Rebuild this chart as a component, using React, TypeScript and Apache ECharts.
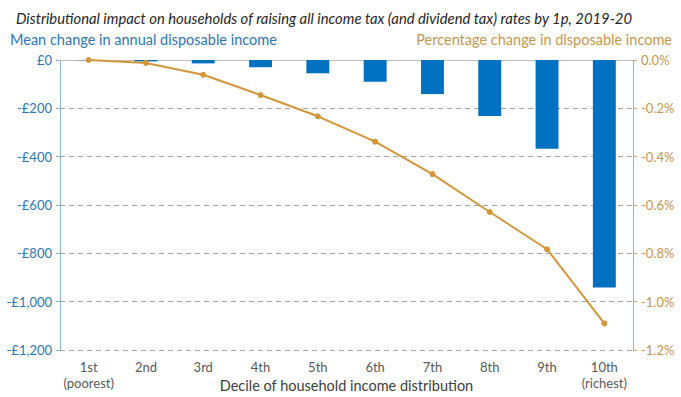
import React, { useEffect, useRef } from "react";
import * as echarts from "echarts";

const categories = ["1st\n(poorest)", "2nd", "3rd", "4th", "5th", "6th", "7th", "8th", "9th", "10th\n(richest)"];
const meanChange = [-1, -6, -14, -30, -55, -90, -141, -232, -367, -941];
const pctChange = [0, -0.012, -0.061, -0.145, -0.233, -0.338, -0.472, -0.629, -0.783, -1.09];

const FONT = "Lato";

export default function App() {
  const ref = useRef<HTMLDivElement>(null);
  useEffect(() => {
    const chart = echarts.init(ref.current!, undefined, { renderer: "svg" });
    chart.setOption({
      animation: false,
      textStyle: { fontFamily: FONT },
      title: {
        text: "Distributional impact on households of raising all income tax (and dividend tax) rates by 1p, 2019-20",
        left: 11,
        top: 5,
        textStyle: { fontFamily: FONT, fontSize: 14.8, fontStyle: "italic", fontWeight: "normal", color: "#262626" },
      },
      graphic: [
        {
          type: "text",
          left: 10,
          top: 32,
          style: { text: "Mean change in annual disposable income", font: `14.5px ${FONT}`, fill: "#2E75B6" },
        },
        {
          type: "text",
          right: 9,
          top: 32,
          style: { text: "Percentage change in disposable income", font: `14.5px ${FONT}`, fill: "#C8964E" },
        },
      ],
      grid: { left: 60, right: 48, top: 60, bottom: 47, containLabel: false, outerBoundsMode: "none" },
      xAxis: [
        {
          type: "category",
          data: categories,
          position: "bottom",
          axisLine: { show: false, onZero: false },
          axisTick: { show: false },
          axisLabel: { color: "#595959", fontSize: 13, margin: 9, lineHeight: 16, interval: 0 },
          name: "Decile of household income distribution",
          nameLocation: "middle",
          nameGap: 28,
          nameMoveOverlap: false,
          nameTextStyle: { color: "#404040", fontSize: 14.5 },
        },
        {
          type: "category",
          data: categories,
          position: "top",
          axisLine: { show: true, lineStyle: { color: "#BFBFBF", width: 1 } },
          axisTick: { show: false },
          axisLabel: { show: false },
        },
      ],
      yAxis: [
        {
          type: "value",
          min: -1200,
          max: 0,
          interval: 200,
          position: "left",
          axisLine: { show: true, lineStyle: { color: "#8DB4D6" } },
          axisTick: { show: true, length: 4, lineStyle: { color: "#8DB4D6" } },
          axisLabel: {
            color: "#2E75B6",
            fontSize: 13,
            margin: 8,
            formatter: (v: number) => (v < 0 ? "-£" : "£") + Math.abs(v).toLocaleString("en-GB"),
          },
          splitLine: { show: true, lineStyle: { color: "#A6A6A6", type: [5, 4], width: 1 } },
        },
        {
          type: "value",
          min: -1.2,
          max: 0,
          interval: 0.2,
          position: "right",
          axisLine: { show: true, lineStyle: { color: "#D4A86A" } },
          axisTick: { show: true, length: 4, lineStyle: { color: "#D4A86A" } },
          axisLabel: {
            color: "#C8964E",
            fontSize: 13,
            margin: 8,
            formatter: (v: number) => v.toFixed(1) + "%",
          },
          splitLine: { show: false },
        },
      ],
      series: [
        {
          type: "bar",
          data: meanChange,
          xAxisIndex: 0,
          yAxisIndex: 0,
          barWidth: "40%",
          itemStyle: { color: "#0070C0" },
        },
        {
          type: "line",
          data: pctChange,
          xAxisIndex: 0,
          yAxisIndex: 1,
          symbol: "circle",
          symbolSize: 6,
          lineStyle: { color: "#D4963B", width: 2 },
          itemStyle: { color: "#D4963B" },
        },
      ],
    });
    return () => chart.dispose();
  }, []);
  return <div ref={ref} style={{ width: 681, height: 397, position: "absolute", left: 0, top: 0 }} />;
}
